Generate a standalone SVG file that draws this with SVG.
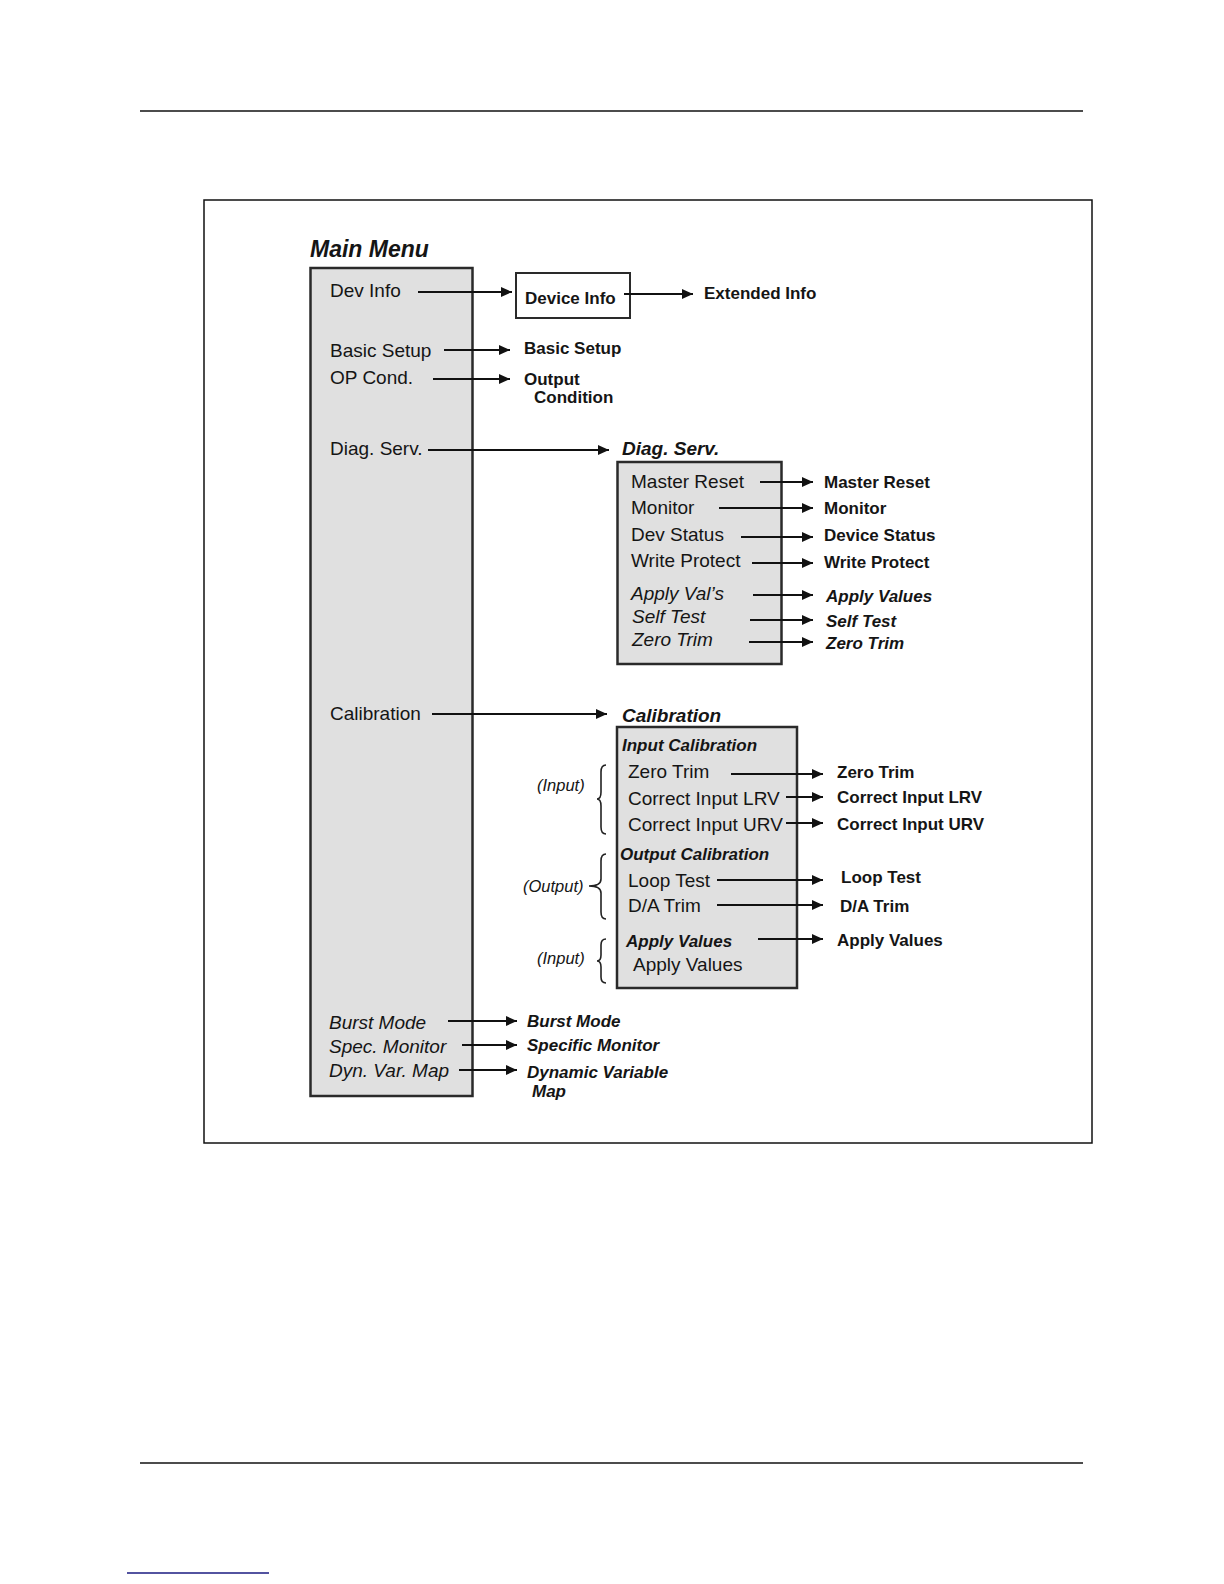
<svg xmlns="http://www.w3.org/2000/svg" width="1224" height="1584" viewBox="0 0 1224 1584">
<style>
text{font-family:"Liberation Sans",Arial,sans-serif;fill:#151515}
.it{font-size:19px}
.itl{font-size:19px;font-style:italic}
.lb{font-size:17px;font-weight:bold}
.lbi{font-size:17px;font-weight:bold;font-style:italic}
.hd{font-size:19px;font-weight:bold;font-style:italic}
.br{font-size:16.5px;font-style:italic}
.box{fill:#e0e0e0;stroke:#2a2a2a;stroke-width:2.5}
.con line{stroke:#111;stroke-width:2;marker-end:url(#ah)}
.brace{fill:none;stroke:#222;stroke-width:1.6}
</style>
<defs>
<marker id="ah" markerUnits="userSpaceOnUse" markerWidth="13" markerHeight="12" refX="11" refY="5" orient="auto">
<path d="M0,0 L11,5 L0,10 z" fill="#111"/>
</marker>
</defs>
<rect width="1224" height="1584" fill="#fff"/>
<line x1="140" y1="111" x2="1083" y2="111" stroke="#111" stroke-width="1.5"/>
<line x1="140" y1="1463" x2="1083" y2="1463" stroke="#111" stroke-width="1.5"/>
<line x1="127" y1="1573" x2="269" y2="1573" stroke="#1a1a80" stroke-width="1.5"/>
<rect x="204" y="200" width="888" height="943" fill="none" stroke="#111" stroke-width="1.5"/>

<g id="main-menu">
<text x="310" y="257" style="font-size:23px;font-weight:bold;font-style:italic">Main Menu</text>
<rect class="box" x="310.5" y="268" width="162" height="828"/>
<text class="it" x="330" y="297">Dev Info</text>
<text class="it" x="330" y="357">Basic Setup</text>
<text class="it" x="330" y="384">OP Cond.</text>
<text class="it" x="330" y="455">Diag. Serv.</text>
<text class="it" x="330" y="720">Calibration</text>
<text class="itl" x="329" y="1029">Burst Mode</text>
<text class="itl" x="329" y="1053">Spec. Monitor</text>
<text class="itl" x="329" y="1077">Dyn. Var. Map</text>
</g>

<g id="device-info">
<rect x="516" y="273" width="114" height="45" fill="#fff" stroke="#2a2a2a" stroke-width="2"/>
<text class="lb" x="525" y="304">Device Info</text>
</g>
<g id="extended-info"><text class="lb" x="704" y="299">Extended Info</text></g>
<g id="basic-setup"><text class="lb" x="524" y="354">Basic Setup</text></g>
<g id="output-condition"><text class="lb" x="524" y="385">Output</text><text class="lb" x="534" y="403">Condition</text></g>

<g id="diag-serv">
<text class="hd" x="622" y="455">Diag. Serv.</text>
<rect class="box" x="617.5" y="462" width="164" height="202"/>
<text class="it" x="631" y="488">Master Reset</text>
<text class="it" x="631" y="514">Monitor</text>
<text class="it" x="631" y="541">Dev Status</text>
<text class="it" x="631" y="567">Write Protect</text>
<text class="itl" x="631" y="600">Apply Val’s</text>
<text class="itl" x="632" y="623">Self Test</text>
<text class="itl" x="632" y="646">Zero Trim</text>
</g>
<g id="diag-results">
<text class="lb" x="824" y="488">Master Reset</text>
<text class="lb" x="824" y="514">Monitor</text>
<text class="lb" x="824" y="541">Device Status</text>
<text class="lb" x="824" y="568">Write Protect</text>
<text class="lbi" x="826" y="602">Apply Values</text>
<text class="lbi" x="826" y="627">Self Test</text>
<text class="lbi" x="826" y="649">Zero Trim</text>
</g>

<g id="calibration">
<text class="hd" x="622" y="722">Calibration</text>
<rect class="box" x="617" y="727" width="180" height="261"/>
<text class="lbi" x="622" y="751">Input Calibration</text>
<text class="it" x="628" y="778">Zero Trim</text>
<text class="it" x="628" y="805">Correct Input LRV</text>
<text class="it" x="628" y="831">Correct Input URV</text>
<text class="lbi" x="620" y="860">Output Calibration</text>
<text class="it" x="628" y="887">Loop Test</text>
<text class="it" x="628" y="912">D/A Trim</text>
<text class="lbi" x="626" y="947">Apply Values</text>
<text class="it" x="633" y="971">Apply Values</text>
</g>
<g id="calibration-notes">
<text class="br" x="537" y="791">(Input)</text>
<path class="brace" d="M606,765 Q601,765 601,772 L601,792 Q601,799 597,799 Q601,799 601,806 L601,827 Q601,834 606,834"/>
<text class="br" x="523" y="892">(Output)</text>
<path class="brace" d="M606,854 Q601,854 601,861 L601,879 Q601,886 589,886 Q601,886 601,893 L601,912 Q601,919 606,919"/>
<text class="br" x="537" y="964">(Input)</text>
<path class="brace" d="M606,939 Q601,939 601,945 L601,955 Q601,961 597,961 Q601,961 601,967 L601,977 Q601,983 606,983"/>
</g>
<g id="calibration-results">
<text class="lb" x="837" y="778">Zero Trim</text>
<text class="lb" x="837" y="803">Correct Input LRV</text>
<text class="lb" x="837" y="830">Correct Input URV</text>
<text class="lb" x="841" y="883">Loop Test</text>
<text class="lb" x="840" y="912">D/A Trim</text>
<text class="lb" x="837" y="946">Apply Values</text>
</g>

<g id="other-results">
<text class="lbi" x="527" y="1027">Burst Mode</text>
<text class="lbi" x="527" y="1051">Specific Monitor</text>
<text class="lbi" x="527" y="1078">Dynamic Variable</text>
<text class="lbi" x="532" y="1097">Map</text>
</g>

<g id="connectors" class="con">
<line x1="418" y1="292" x2="512" y2="292"/>
<line x1="624" y1="294" x2="693" y2="294"/>
<line x1="444" y1="350" x2="510" y2="350"/>
<line x1="433" y1="379" x2="510" y2="379"/>
<line x1="428" y1="450" x2="609" y2="450"/>
<line x1="760" y1="482" x2="813" y2="482"/>
<line x1="719" y1="508" x2="813" y2="508"/>
<line x1="741" y1="537" x2="813" y2="537"/>
<line x1="752" y1="563" x2="813" y2="563"/>
<line x1="753" y1="595" x2="813" y2="595"/>
<line x1="750" y1="620" x2="813" y2="620"/>
<line x1="749" y1="642" x2="813" y2="642"/>
<line x1="432" y1="714" x2="607" y2="714"/>
<line x1="731" y1="774" x2="823" y2="774"/>
<line x1="786" y1="797" x2="823" y2="797"/>
<line x1="786" y1="823" x2="823" y2="823"/>
<line x1="717" y1="880" x2="823" y2="880"/>
<line x1="717" y1="905" x2="823" y2="905"/>
<line x1="758" y1="939" x2="823" y2="939"/>
<line x1="448" y1="1021" x2="517" y2="1021"/>
<line x1="462" y1="1045" x2="517" y2="1045"/>
<line x1="459" y1="1070" x2="517" y2="1070"/>
</g>
</svg>
